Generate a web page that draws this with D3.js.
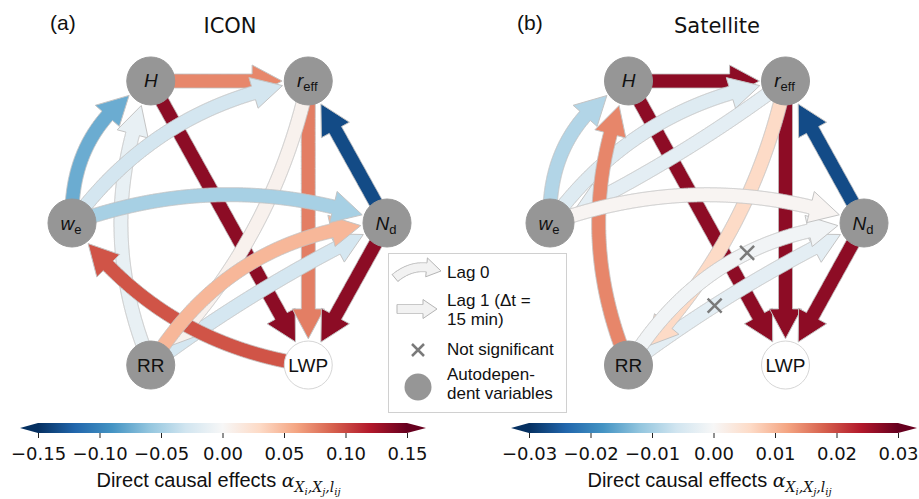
<!DOCTYPE html>
<html>
<head>
<meta charset="utf-8">
<script src="https://cdn.jsdelivr.net/npm/d3@7"></script>
<style>
  body { margin: 0; background: #fff; }
  svg { font-family: "Liberation Sans", Arial, sans-serif; }
</style>
</head>
<body>
<svg id="chart" width="919" height="499"></svg>
<script>
// variables, placed clockwise on a hexagon starting top-left
const nodeNames = ["H", "reff", "Nd", "LWP", "RR", "we"];
const nodeMain = ["H", "r", "N", "LWP", "RR", "w"];
const nodeSub = ["", "eff", "d", "", "", "e"];
const nodeItalic = [true, true, true, false, false, true];

// autodependency per variable (LWP is not)
const autoA = [true, true, true, false, true, true];
const autoB = [true, true, true, false, true, true];

// links: [source, target, lag, direct causal effect, significant]
const linksA = [
  ["H", "reff", 1, 0.073, true],
  ["H", "LWP", 1, 0.135, true],
  ["reff", "LWP", 1, 0.077, true],
  ["Nd", "reff", 1, -0.135, true],
  ["Nd", "LWP", 1, 0.135, true],
  ["RR", "Nd", 1, -0.027, true],
  ["reff", "RR", 0, 0.006, true],
  ["RR", "H", 0, -0.012, true],
  ["we", "H", 0, -0.075, true],
  ["we", "reff", 0, -0.028, true],
  ["LWP", "we", 0, 0.095, true],
  ["RR", "Nd", 0, 0.05, true],
  ["we", "Nd", 0, -0.05, true]
];
const linksB = [
  ["H", "reff", 1, 0.027, true],
  ["H", "LWP", 1, 0.027, true],
  ["reff", "LWP", 1, 0.027, true],
  ["Nd", "reff", 1, -0.027, true],
  ["Nd", "LWP", 1, 0.027, true],
  ["RR", "Nd", 1, -0.003, false],
  ["reff", "RR", 0, 0.006, true],
  ["RR", "Nd", 0, -0.001, false],
  ["we", "H", 0, -0.009, true],
  ["reff", "we", 1, -0.003, true],
  ["we", "reff", 0, -0.004, true],
  ["RR", "H", 0, 0.0147, true],
  ["we", "Nd", 0, 0.0006, true]
];

const ticksA = [-0.15, -0.10, -0.05, 0.00, 0.05, 0.10, 0.15];
const ticksB = [-0.03, -0.02, -0.01, 0.00, 0.01, 0.02, 0.03];

const svg = d3.select("#chart");
const nodeAngles = [-120, -60, 0, 60, 120, 180];
const rNode = 24;
// bend of the lag-0 arcs (default 0.21)
const bend = { "we>H": 0.3, "RR>Nd": 0.26, "we>Nd": 0.18, "reff>RR": 0.15 };
const rdbu = d3.schemeRdBu[11].slice().reverse();

function arrowPath(p0, p1, k, r0, r1, w, hw, hl) {
  const dx = p1[0] - p0[0], dy = p1[1] - p0[1];
  const c = [(p0[0] + p1[0]) / 2 + k * dy, (p0[1] + p1[1]) / 2 - k * dx];
  const bez = t => {
    const u = 1 - t;
    return [u * u * p0[0] + 2 * u * t * c[0] + t * t * p1[0],
            u * u * p0[1] + 2 * u * t * c[1] + t * t * p1[1]];
  };
  const dist = (a, b) => Math.hypot(a[0] - b[0], a[1] - b[1]);
  const pts = d3.range(801).map(i => bez(i / 800))
    .filter(p => dist(p, p0) >= r0 && dist(p, p1) >= r1);
  const rem = new Array(pts.length).fill(0);
  for (let i = pts.length - 2; i >= 0; i--) rem[i] = rem[i + 1] + dist(pts[i], pts[i + 1]);
  let hb = rem.findIndex(v => v <= hl);
  if (hb < 1) hb = 1;
  const normal = i => {
    const a = pts[Math.max(0, i - 1)], b = pts[Math.min(pts.length - 1, i + 1)];
    const tx = b[0] - a[0], ty = b[1] - a[1], L = Math.hypot(tx, ty);
    return [-ty / L, tx / L];
  };
  const left = [], right = [];
  for (let i = 0; i <= hb; i++) {
    const n = normal(i);
    left.push([pts[i][0] + n[0] * w / 2, pts[i][1] + n[1] * w / 2]);
    right.push([pts[i][0] - n[0] * w / 2, pts[i][1] - n[1] * w / 2]);
  }
  const nb = normal(hb), base = pts[hb], tip = pts[pts.length - 1];
  const poly = [...left,
    [base[0] + nb[0] * hw / 2, base[1] + nb[1] * hw / 2], tip,
    [base[0] - nb[0] * hw / 2, base[1] - nb[1] * hw / 2],
    ...right.reverse()];
  return { d: "M" + poly.map(p => p[0].toFixed(1) + "," + p[1].toFixed(1)).join("L") + "Z", at: t => bez(t) };
}

function drawPanel(o) {
  const g = svg.append("g");
  const x = d3.scaleLinear().domain([-1, 1]).range(o.xRange);
  const y = d3.scaleLinear().domain([-1, 1]).range([59, 387]);
  const pos = {};
  nodeNames.forEach((n, i) => {
    const a = nodeAngles[i] * Math.PI / 180;
    pos[n] = [x(Math.cos(a)), y(Math.sin(a))];
  });
  const lo = o.ticks[0], hi = o.ticks[o.ticks.length - 1];
  const color = d3.scaleLinear()
    .domain(d3.range(11).map(i => lo + i * (hi - lo) / 10))
    .range(rdbu).clamp(true);

  o.links.forEach(l => {
    const twin = o.links.some(m => m !== l &&
      ((m[0] === l[0] && m[1] === l[1]) || (m[0] === l[1] && m[1] === l[0])));
    const key = l[0] + ">" + l[1];
    const k = l[2] === 0 ? (bend[key] ?? 0.21) : (twin ? 0.05 : 0);
    const a = arrowPath(pos[l[0]], pos[l[1]], k, 20, 26, 14, 32, 30);
    g.append("path").attr("d", a.d)
      .attr("fill", color(l[3]))
      .attr("stroke", "#c4c4c4").attr("stroke-width", 1);
    if (!l[4]) {
      const m = a.at(l[2] === 0 ? 0.58 : 0.38);
      g.append("path")
        .attr("d", `M${m[0] - 7},${m[1] - 7}L${m[0] + 7},${m[1] + 7}M${m[0] - 7},${m[1] + 7}L${m[0] + 7},${m[1] - 7}`)
        .attr("stroke", "#7a7a7a").attr("stroke-width", 2.5);
    }
  });

  nodeNames.forEach((n, i) => {
    const p = pos[n];
    g.append("circle").attr("cx", p[0]).attr("cy", p[1]).attr("r", rNode)
      .attr("fill", o.auto[i] ? "#969696" : "#fff")
      .attr("stroke", o.auto[i] ? "#969696" : "#d6d6d6").attr("stroke-width", 1);
    const t = g.append("text").attr("x", p[0] + (nodeSub[i] ? -1 : 0)).attr("y", p[1] + 6.5)
      .attr("text-anchor", "middle").attr("font-size", 19).attr("fill", "#111");
    t.append("tspan").attr("font-style", nodeItalic[i] ? "italic" : "normal").text(nodeMain[i]);
    if (nodeSub[i]) t.append("tspan").attr("dy", 4).attr("font-size", 13).text(nodeSub[i]);
  });

  // colorbar
  const cx = d3.scaleLinear().domain([lo, hi]).range(o.barRange);
  const gid = "grad" + o.id;
  const grad = svg.append("defs").append("linearGradient").attr("id", gid);
  rdbu.forEach((c, i) => grad.append("stop").attr("offset", i / 10).attr("stop-color", c));
  const y0 = 423, h = 10, x0 = o.barRange[0], x1 = o.barRange[1];
  g.append("rect").attr("x", x0).attr("y", y0).attr("width", x1 - x0).attr("height", h)
    .attr("fill", `url(#${gid})`);
  g.append("path").attr("d", `M${x0},${y0}L${x0 - 18},${y0 + h / 2}L${x0},${y0 + h}Z`)
    .attr("fill", rdbu[0]);
  g.append("path").attr("d", `M${x1},${y0}L${x1 + 19},${y0 + h / 2}L${x1},${y0 + h}Z`)
    .attr("fill", rdbu[10]);
  const ax = g.append("g").attr("transform", `translate(0,${y0 + h})`)
    .call(d3.axisBottom(cx).tickValues(o.ticks).tickFormat(d3.format(".2f")).tickSize(5).tickPadding(9));
  ax.select(".domain").remove();
  ax.selectAll("text").attr("font-family", "DejaVu Sans").attr("font-size", 18).attr("fill", "#111");
  ax.selectAll("line").attr("stroke", "#222");

  const lab = g.append("text").attr("x", (x0 + x1) / 2 - 4).attr("y", 487)
    .attr("text-anchor", "middle").attr("font-size", 20).attr("fill", "#111");
  lab.append("tspan").text("Direct causal effects ");
  const mf = "DejaVu Serif";
  lab.append("tspan").attr("font-family", mf).attr("font-style", "italic").attr("font-size", 19).text("α");
  const subs = [["X", 14, 5], ["i", 10, 3], [",X", 14, -3], ["j", 10, 3], [",l", 14, -3], ["ij", 10, 3]];
  subs.forEach(s => lab.append("tspan").attr("font-family", mf).attr("font-style", "italic")
    .attr("font-size", s[1]).attr("dy", s[2]).text(s[0]));

  // titles
  g.append("text").attr("x", o.tagX).attr("y", 30)
    .attr("font-size", 21).attr("fill", "#111").text(o.tag);
  g.append("text").attr("x", o.titleX).attr("y", 33).attr("text-anchor", "middle")
    .attr("font-family", "DejaVu Sans").attr("font-size", 21).attr("fill", "#111").text(o.title);
}

drawPanel({ id: "a", links: linksA, auto: autoA, ticks: ticksA, xRange: [72, 387],
  barRange: [38, 407], tag: "(a)", tagX: 50, title: "ICON", titleX: 230 });
drawPanel({ id: "b", links: linksB, auto: autoB, ticks: ticksB, xRange: [550, 864],
  barRange: [529, 898], tag: "(b)", tagX: 517, title: "Satellite", titleX: 717 });

// legend
const lg = svg.append("g");
lg.append("rect").attr("x", 388.5).attr("y", 253.5).attr("width", 178).attr("height", 159)
  .attr("fill", "#fff").attr("fill-opacity", 0.9).attr("stroke", "#d0d0d0");
const legArrow0 = arrowPath([395, 278], [441, 271], 0.3, 0, 0, 9, 19, 15);
lg.append("path").attr("d", legArrow0.d).attr("fill", "#f2f2f2").attr("stroke", "#b5b5b5");
const legArrow1 = arrowPath([397, 309], [437, 309], 0, 0, 0, 9, 19, 14);
lg.append("path").attr("d", legArrow1.d).attr("fill", "#f2f2f2").attr("stroke", "#b5b5b5");
lg.append("path").attr("d", "M412,344L424,356M412,356L424,344").attr("stroke", "#7a7a7a").attr("stroke-width", 2.5);
lg.append("circle").attr("cx", 418).attr("cy", 387).attr("r", 13.5).attr("fill", "#969696");
const legText = [["Lag 0", 278], ["Lag 1 (\u0394t =", 306], ["15 min)", 325], ["Not significant", 355], ["Autodepen-", 380], ["dent variables", 399]];
legText.forEach(t => lg.append("text").attr("x", 447).attr("y", t[1]).attr("font-size", 17)
  .attr("fill", "#111").text(t[0]));
</script>
</body>
</html>
